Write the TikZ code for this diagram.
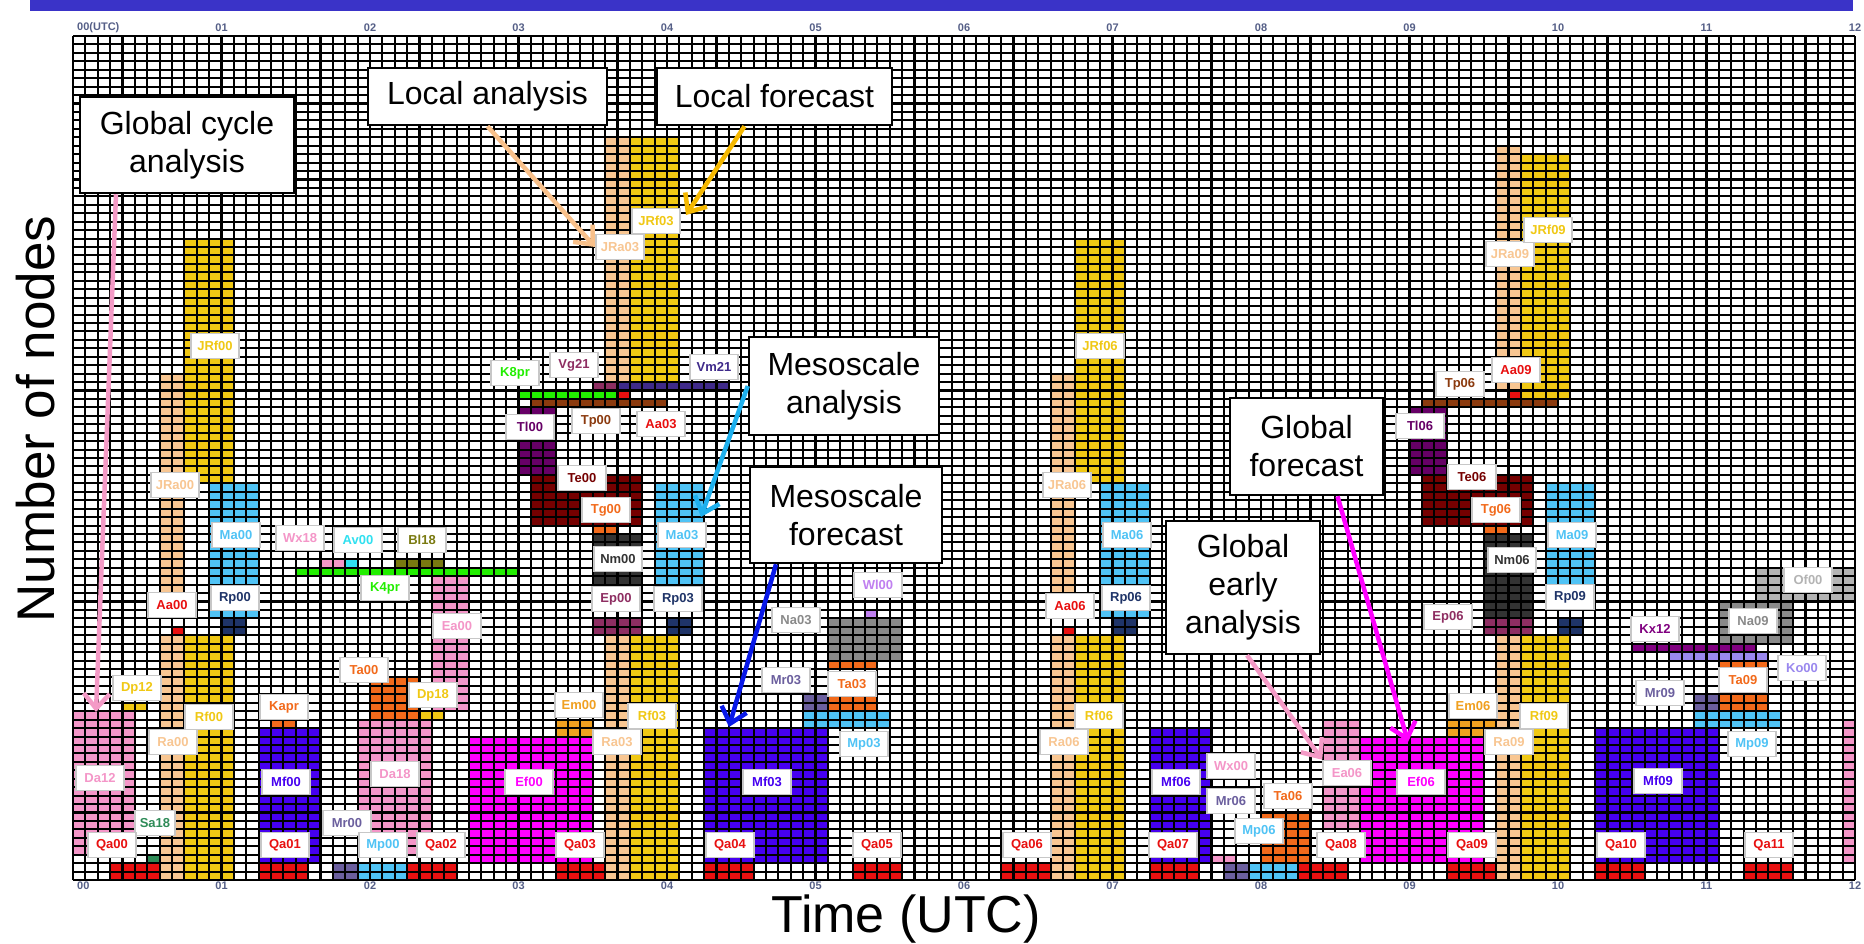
\documentclass[tikz,border=0pt]{standalone}
\usepackage{fontspec}
\setmainfont{Liberation Sans}
\usetikzlibrary{arrows.meta}
\definecolor{barblue}{RGB}{58,51,200}
\definecolor{pinkc}{RGB}{244,150,200}
\definecolor{yellowc}{RGB}{240,200,20}
\definecolor{peachc}{RGB}{248,198,146}
\definecolor{bluec}{RGB}{80,195,245}
\definecolor{navyc}{RGB}{31,52,104}
\definecolor{redc}{RGB}{232,16,16}
\definecolor{violetc}{RGB}{70,0,240}
\definecolor{magentac}{RGB}{255,0,255}
\definecolor{orangec}{RGB}{242,106,27}
\definecolor{slatec}{RGB}{107,95,158}
\definecolor{cyanc}{RGB}{48,224,240}
\definecolor{olivec}{RGB}{122,122,16}
\definecolor{greenc}{RGB}{34,238,0}
\definecolor{seagreenc}{RGB}{46,139,87}
\definecolor{maroonc}{RGB}{142,46,98}
\definecolor{indigoc}{RGB}{63,42,138}
\definecolor{purplec}{RGB}{102,0,102}
\definecolor{brownc}{RGB}{139,58,14}
\definecolor{darkredc}{RGB}{117,0,0}
\definecolor{darkgrayc}{RGB}{51,51,51}
\definecolor{amberc}{RGB}{240,160,32}
\definecolor{grayc}{RGB}{138,138,138}
\definecolor{lgrayc}{RGB}{180,180,180}
\definecolor{kxc}{RGB}{128,0,128}
\definecolor{lavc}{RGB}{154,136,238}
\definecolor{lpurplec}{RGB}{192,128,240}
\definecolor{axisc}{RGB}{85,95,135}
\definecolor{arrpink}{RGB}{244,154,198}
\definecolor{arrpeach}{RGB}{248,192,138}
\definecolor{arrgold}{RGB}{245,184,0}
\definecolor{arrcyan}{RGB}{30,176,238}
\definecolor{arrblue}{RGB}{8,24,232}
\begin{document}
\begin{tikzpicture}[x=1pt,y=-1pt,
  gridline/.style={line width=2.05pt,black},
  lbl/.style={draw=black!22,line width=1.6pt,fill=white,inner xsep=5pt,inner ysep=0pt,
    minimum height=25pt,minimum width=48pt,font=\fontsize{13}{13}\selectfont\bfseries},
  callout/.style={draw=black,line width=2.5pt,fill=white,inner sep=0pt,align=center,
    font=\fontsize{32}{38}\selectfont},
  axl/.style={text=axisc,font=\fontsize{11}{11}\selectfont\bfseries,inner sep=0pt},
  arr/.style={line width=4.5pt,-{Straight Barb[length=15pt,width=26pt]}}]
\useasboundingbox (0,0) rectangle (1864,943);
\fill[white] (0,0) rectangle (1864,943);
\fill[barblue] (30,0) rectangle (1853,11);

\begin{scope}[shift={(73pt,-880pt)},x=12.375pt,y=8.44pt]
% global 00
\fill[pinkc] (0,3) rectangle (5,20);
\fill[yellowc] (4,20) rectangle (6,21);
\fill[seagreenc] (6,2) rectangle (7,3);
\fill[redc] (3,0) rectangle (7,2);
\fill[peachc] (7,0) rectangle (9,29);
\fill[peachc] (7,31) rectangle (9,60);
\fill[redc] (8,29) rectangle (9,30);
\fill[yellowc] (9,0) rectangle (13,29);
\fill[yellowc] (9,47) rectangle (13,76);
\fill[bluec] (11,31) rectangle (15,47);
\fill[navyc] (12,29) rectangle (14,31);
\fill[orangec] (16,18) rectangle (18,19);
\fill[violetc] (15,2) rectangle (20,18);
\fill[redc] (15,0) rectangle (19,2);
\fill[slatec] (21,0) rectangle (23,2);
\fill[bluec] (23,0) rectangle (27,2);
\fill[redc] (27,0) rectangle (31,2);
\fill[pinkc] (23,3) rectangle (29,19);
\fill[orangec] (24,19) rectangle (28,24);
\fill[yellowc] (28,19) rectangle (30,20);
\fill[pinkc] (29,20) rectangle (32,36);
\fill[pinkc] (20,37) rectangle (22,38);
\fill[cyanc] (22,37) rectangle (23,38);
\fill[olivec] (26,37) rectangle (30,38);
\fill[greenc] (18,36) rectangle (36,37);
% hour 3
\fill[greenc] (36,57) rectangle (44,58);
\fill[redc] (44,57) rectangle (45,58);
\fill[maroonc] (42,58) rectangle (44,59);
\fill[indigoc] (44,58) rectangle (53,59);
\fill[peachc] (43,59) rectangle (45,88);
\fill[yellowc] (45,59) rectangle (49,88);
\fill[brownc] (37,56) rectangle (48,57);
\fill[purplec] (36,48) rectangle (39,56);
\fill[darkredc] (37,42) rectangle (46,48);
\fill[orangec] (42,41) rectangle (44,42);
\fill[darkgrayc] (42,35) rectangle (46,41);
\fill[bluec] (47,35) rectangle (51,47);
\fill[maroonc] (42,29) rectangle (46,31);
\fill[navyc] (48,29) rectangle (50,31);
\fill[peachc] (43,0) rectangle (45,29);
\fill[yellowc] (45,0) rectangle (49,29);
\fill[amberc] (39,17) rectangle (42,19);
\fill[magentac] (32,2) rectangle (42,17);
\fill[redc] (39,0) rectangle (43,2);
\fill[violetc] (51,2) rectangle (61,18);
\fill[redc] (51,0) rectangle (55,2);
\fill[bluec] (59,18) rectangle (66,20);
\fill[slatec] (59,20) rectangle (61,22);
\fill[orangec] (61,20) rectangle (65,22);
\fill[orangec] (61,25) rectangle (65,26);
\fill[redc] (63,0) rectangle (67,2);
\fill[grayc] (61,26) rectangle (67,31);
\fill[lpurplec] (64,31) rectangle (65,32);
% global 06
\fill[redc] (75,0) rectangle (79,2);
\fill[peachc] (79,0) rectangle (81,29);
\fill[peachc] (79,31) rectangle (81,60);
\fill[redc] (80,29) rectangle (81,30);
\fill[yellowc] (81,0) rectangle (85,29);
\fill[yellowc] (81,47) rectangle (85,76);
\fill[bluec] (83,31) rectangle (87,47);
\fill[navyc] (84,29) rectangle (86,31);
\fill[violetc] (87,2) rectangle (92,18);
\fill[redc] (87,0) rectangle (91,2);
\fill[pinkc] (92,2) rectangle (94,3);
\fill[slatec] (93,0) rectangle (95,2);
\fill[bluec] (95,0) rectangle (99,2);
\fill[redc] (99,0) rectangle (103,2);
\fill[orangec] (96,2) rectangle (100,8);
\fill[pinkc] (101,6) rectangle (104,19);
\fill[magentac] (104,2) rectangle (114,17);
\fill[amberc] (111,17) rectangle (115,19);
\fill[redc] (111,0) rectangle (115,2);
\fill[peachc] (115,0) rectangle (117,29);
\fill[yellowc] (117,0) rectangle (121,29);
\fill[maroonc] (114,29) rectangle (118,31);
\fill[navyc] (120,29) rectangle (122,31);
\fill[darkgrayc] (114,31) rectangle (118,41);
\fill[orangec] (114,41) rectangle (116,42);
\fill[bluec] (119,35) rectangle (123,47);
\fill[darkredc] (109,42) rectangle (118,48);
\fill[purplec] (108,48) rectangle (111,56);
\fill[brownc] (109,56) rectangle (120,57);
\fill[redc] (116,57) rectangle (117,58);
\fill[peachc] (115,58) rectangle (117,87);
\fill[yellowc] (117,57) rectangle (121,86);
% hours 10-12
\fill[redc] (123,0) rectangle (127,2);
\fill[violetc] (123,2) rectangle (133,18);
\fill[redc] (135,0) rectangle (139,2);
\fill[bluec] (131,18) rectangle (138,20);
\fill[slatec] (131,20) rectangle (133,22);
\fill[orangec] (133,20) rectangle (137,22);
\fill[orangec] (133,25) rectangle (137,26);
\fill[lavc] (129,26) rectangle (137,27);
\fill[kxc] (126,27) rectangle (136,28);
\fill[grayc] (133,28) rectangle (139,33);
\fill[lgrayc] (136,33) rectangle (144,37);
\fill[pinkc] (143,2) rectangle (144,19);
% grid
\foreach \i in {0,...,144} \draw[gridline] (\i,0) -- (\i,100);
\foreach \j in {0,...,100} \draw[gridline] (0,\j) -- (144,\j);
\end{scope}

% hour labels
\node[axl,anchor=west] (t00) at (77,28) {00(UTC)};
\node[axl,anchor=west] (b00) at (77,886) {00};
\foreach \h/\t in {1/01,2/02,3/03,4/04,5/05,6/06,7/07,8/08,9/09,10/10,11/11,12/12}{
  \node[axl] (t\t) at (73+148.5*\h,28) {\t};
  \node[axl] (b\t) at (73+148.5*\h,886) {\t};
}

% small labels
\node[lbl,text=pinkc] (da12) at (100,778) {Da12};
\node[lbl,text=yellowc] (dp12) at (137,688) {Dp12};
\node[lbl,text=seagreenc,minimum width=40pt] (sa18) at (155,823) {Sa18};
\node[lbl,text=redc] (qa00) at (112,845) {Qa00};
\node[lbl,text=peachc] (ra00) at (173,742) {Ra00};
\node[lbl,text=yellowc] (rf00) at (209,717) {Rf00};
\node[lbl,text=redc] (aa00) at (172,605) {Aa00};
\node[lbl,text=navyc] (rp00) at (235,598) {Rp00};
\node[lbl,text=bluec] (ma00) at (236,535) {Ma00};
\node[lbl,text=peachc] (jra00) at (175,485) {JRa00};
\node[lbl,text=yellowc] (jrf00) at (215,346) {JRf00};
\node[lbl,text=orangec] (kapr) at (284,707) {Kapr};
\node[lbl,text=violetc] (mf00) at (286,782) {Mf00};
\node[lbl,text=redc] (qa01) at (285,845) {Qa01};
\node[lbl,text=slatec] (mr00) at (347,823) {Mr00};
\node[lbl,text=bluec] (mp00) at (383,845) {Mp00};
\node[lbl,text=redc] (qa02) at (441,845) {Qa02};
\node[lbl,text=orangec] (ta00) at (364,670) {Ta00};
\node[lbl,text=yellowc] (dp18) at (433,695) {Dp18};
\node[lbl,text=pinkc] (da18) at (395,774) {Da18};
\node[lbl,text=pinkc] (ea00) at (457,626) {Ea00};
\node[lbl,text=pinkc] (wx18) at (300,538) {Wx18};
\node[lbl,text=cyanc] (av00) at (358,540) {Av00};
\node[lbl,text=olivec] (bl18) at (422,540) {Bl18};
\node[lbl,text=greenc] (k4pr) at (385,588) {K4pr};
\node[lbl,text=greenc] (k8pr) at (515,373) {K8pr};
\node[lbl,text=maroonc] (vg21) at (574,365) {Vg21};
\node[lbl,text=indigoc] (vm21) at (714,367) {Vm21};
\node[lbl,text=peachc] (jra03) at (620,247) {JRa03};
\node[lbl,text=yellowc] (jrf03) at (656,221) {JRf03};
\node[lbl,text=purplec] (tl00) at (530,427) {Tl00};
\node[lbl,text=brownc] (tp00) at (596,421) {Tp00};
\node[lbl,text=redc] (aa03) at (661,424) {Aa03};
\node[lbl,text=darkredc] (te00) at (582,478) {Te00};
\node[lbl,text=orangec] (tg00) at (606,510) {Tg00};
\node[lbl,text=darkgrayc] (nm00) at (618,559) {Nm00};
\node[lbl,text=bluec] (ma03) at (682,535) {Ma03};
\node[lbl,text=maroonc] (ep00) at (616,599) {Ep00};
\node[lbl,text=navyc] (rp03) at (678,599) {Rp03};
\node[lbl,text=amberc] (em00) at (579,705) {Em00};
\node[lbl,text=yellowc] (rf03) at (652,716) {Rf03};
\node[lbl,text=peachc] (ra03) at (617,742) {Ra03};
\node[lbl,text=magentac] (ef00) at (529,782) {Ef00};
\node[lbl,text=redc] (qa03) at (580,845) {Qa03};
\node[lbl,text=redc] (qa04) at (730,845) {Qa04};
\node[lbl,text=violetc] (mf03) at (767,782) {Mf03};
\node[lbl,text=slatec] (mr03) at (786,680) {Mr03};
\node[lbl,text=orangec] (ta03) at (852,684) {Ta03};
\node[lbl,text=bluec] (mp03) at (864,744) {Mp03};
\node[lbl,text=redc] (qa05) at (877,845) {Qa05};
\node[lbl,text=grayc] (na03) at (796,620) {Na03};
\node[lbl,text=lpurplec] (wl00) at (878,585) {Wl00};
\node[lbl,text=peachc] (jra06) at (1067,485) {JRa06};
\node[lbl,text=yellowc] (jrf06) at (1100,346) {JRf06};
\node[lbl,text=redc] (aa06) at (1070,606) {Aa06};
\node[lbl,text=navyc] (rp06) at (1126,598) {Rp06};
\node[lbl,text=bluec] (ma06) at (1127,535) {Ma06};
\node[lbl,text=yellowc] (rf06) at (1099,716) {Rf06};
\node[lbl,text=peachc] (ra06) at (1064,742) {Ra06};
\node[lbl,text=redc] (qa06) at (1027,845) {Qa06};
\node[lbl,text=violetc] (mf06) at (1176,782) {Mf06};
\node[lbl,text=redc] (qa07) at (1173,845) {Qa07};
\node[lbl,text=pinkc] (wx00) at (1231,766) {Wx00};
\node[lbl,text=slatec] (mr06) at (1231,801) {Mr06};
\node[lbl,text=bluec] (mp06) at (1259,831) {Mp06};
\node[lbl,text=orangec] (ta06) at (1288,796) {Ta06};
\node[lbl,text=pinkc] (ea06) at (1347,773) {Ea06};
\node[lbl,text=redc] (qa08) at (1341,845) {Qa08};
\node[lbl,text=magentac] (ef06) at (1421,782) {Ef06};
\node[lbl,text=amberc] (em06) at (1473,706) {Em06};
\node[lbl,text=redc] (qa09) at (1472,845) {Qa09};
\node[lbl,text=yellowc] (rf09) at (1544,716) {Rf09};
\node[lbl,text=peachc] (ra09) at (1509,742) {Ra09};
\node[lbl,text=navyc] (rp09) at (1570,597) {Rp09};
\node[lbl,text=bluec] (ma09) at (1572,535) {Ma09};
\node[lbl,text=maroonc] (ep06) at (1448,617) {Ep06};
\node[lbl,text=darkgrayc] (nm06) at (1512,560) {Nm06};
\node[lbl,text=darkredc] (te06) at (1472,477) {Te06};
\node[lbl,text=orangec] (tg06) at (1496,510) {Tg06};
\node[lbl,text=purplec] (tl06) at (1420,426) {Tl06};
\node[lbl,text=brownc] (tp06) at (1460,384) {Tp06};
\node[lbl,text=redc] (aa09) at (1516,370) {Aa09};
\node[lbl,text=peachc] (jra09) at (1510,254) {JRa09};
\node[lbl,text=yellowc] (jrf09) at (1548,230) {JRf09};
\node[lbl,text=redc] (qa10) at (1621,845) {Qa10};
\node[lbl,text=redc] (qa11) at (1769,845) {Qa11};
\node[lbl,text=violetc] (mf09) at (1658,781) {Mf09};
\node[lbl,text=bluec] (mp09) at (1752,744) {Mp09};
\node[lbl,text=slatec] (mr09) at (1660,693) {Mr09};
\node[lbl,text=orangec] (ta09) at (1743,680) {Ta09};
\node[lbl,text=lavc] (ko00) at (1802,668) {Ko00};
\node[lbl,text=kxc] (kx12) at (1655,629) {Kx12};
\node[lbl,text=grayc] (na09) at (1753,621) {Na09};
\node[lbl,text=lgrayc] (of00) at (1808,580) {Of00};

% callouts
\node[callout,minimum width=214pt,minimum height=96pt] (gca) at (187,145) {Global cycle\\analysis};
\node[callout,minimum width=239pt,minimum height=57pt] (la) at (487.5,96.5) {Local analysis};
\node[callout,minimum width=235pt,minimum height=57pt] (lf) at (774.5,96.5) {Local forecast};
\node[callout,minimum width=190pt,minimum height=98pt] (msa) at (844,386) {Mesoscale\\analysis};
\node[callout,minimum width=192pt,minimum height=96pt] (msf) at (846,515) {Mesoscale\\forecast};
\node[callout,minimum width=153pt,minimum height=97pt] (gf) at (1306.5,446.5) {Global\\forecast};
\node[callout,minimum width=154pt,minimum height=133pt] (gea) at (1243,587.5) {Global\\early\\analysis};

\coordinate (gcaEnd) at (96,712);
\coordinate (msaEnd) at (701,517);
\coordinate (msfEnd) at (729,727);
\coordinate (gfEnd) at (1408,742);
\coordinate (lfEnd) at (686,215);

\draw[arr,arrpink] ([xshift=-71pt]gca.south) -- (gcaEnd);
\draw[arr,arrpeach] (la.south) -- (jra03.west);
\draw[arr,arrgold] ([xshift=-30pt]lf.south) -- (lfEnd);
\draw[arr,arrcyan] (msa.west) -- (msaEnd);
\draw[arr,arrblue] ([xshift=-70pt]msf.south) -- (msfEnd);
\draw[arr,magentac] ([xshift=31pt]gf.south) -- (gfEnd);
\draw[arr,arrpink] ([xshift=4pt]gea.south) -- (ea06.north west);

% axis titles
\node[rotate=90,font=\fontsize{53}{53}\selectfont,inner sep=0pt] (ylab) at (36,419) {Number of nodes};
\node[font=\fontsize{52}{52}\selectfont,inner sep=0pt] (xlab) at (906,919) {Time (UTC)};
\end{tikzpicture}
\end{document}
